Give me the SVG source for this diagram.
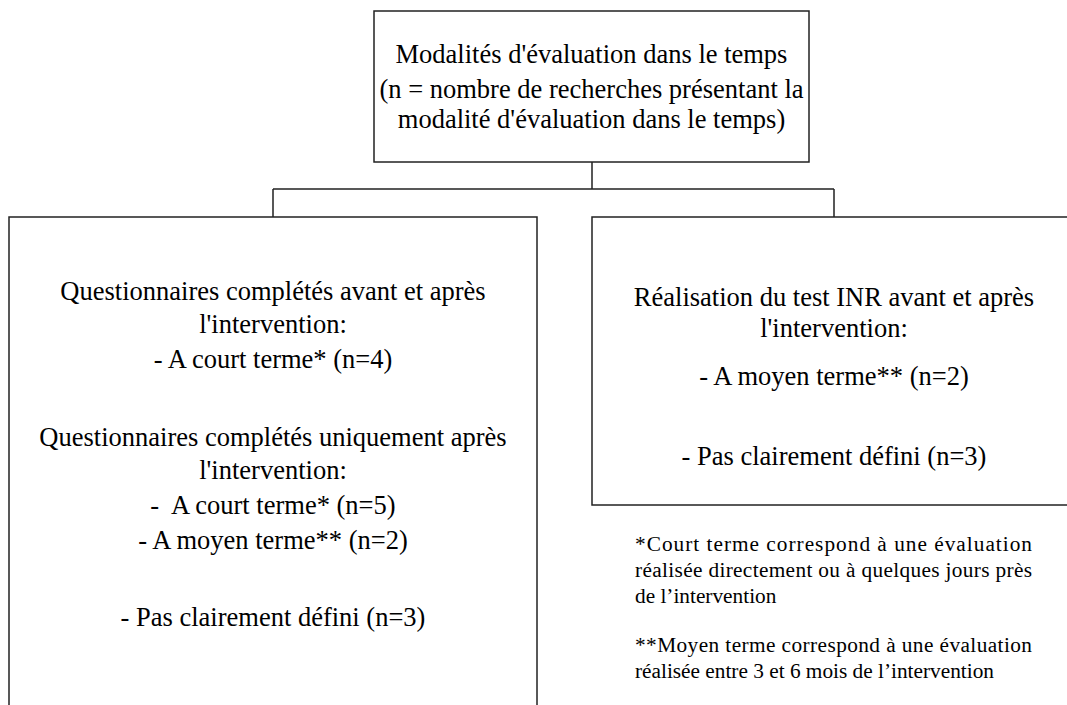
<svg xmlns="http://www.w3.org/2000/svg" width="1067" height="705" viewBox="0 0 1067 705">
<style>
.box{fill:#fff;stroke:#222;stroke-width:1.5}
.con{fill:none;stroke:#222;stroke-width:1.5}
.t{font-family:"Liberation Serif","Times New Roman",serif;font-size:26.5px;fill:#000;text-anchor:middle}
.f{font-family:"Liberation Serif","Times New Roman",serif;font-size:21.3px;fill:#000}
</style>
<rect width="1067" height="705" fill="#fff"/>
<g id="connectors">
<path class="con" d="M592,162 V189 M273,189 H834 M273,189 V217 M834,189 V217"/>
</g>
<g id="top">
<rect class="box" x="374" y="11" width="435" height="151"/>
<text class="t" x="591.5" y="63">Modalités d'évaluation dans le temps</text>
<text class="t" x="591.5" y="98">(n = nombre de recherches présentant la</text>
<text class="t" x="591.5" y="128">modalité d'évaluation dans le temps)</text>
</g>
<g id="left">
<rect class="box" x="9" y="217" width="528" height="520"/>
<text class="t" x="273" y="300">Questionnaires complétés avant et après</text>
<text class="t" x="273" y="333">l'intervention:</text>
<text class="t" x="273" y="368">- A court terme* (n=4)</text>
<text class="t" x="273" y="446">Questionnaires complétés uniquement après</text>
<text class="t" x="273" y="479">l'intervention:</text>
<text class="t" x="273" y="514" xml:space="preserve">-  A court terme* (n=5)</text>
<text class="t" x="273" y="549">- A moyen terme** (n=2)</text>
<text class="t" x="273" y="626">- Pas clairement défini (n=3)</text>
</g>
<g id="right">
<rect class="box" x="592" y="217" width="484" height="288"/>
<text class="t" x="834" y="306">Réalisation du test INR avant et après</text>
<text class="t" x="834" y="337">l'intervention:</text>
<text class="t" x="834" y="385">- A moyen terme** (n=2)</text>
<text class="t" x="834" y="465">- Pas clairement défini (n=3)</text>
</g>
<g id="notes">
<text class="f" x="635" y="551" textLength="397" lengthAdjust="spacing">*Court terme correspond à une évaluation</text>
<text class="f" x="635" y="577" textLength="397" lengthAdjust="spacing">réalisée directement ou à quelques jours près</text>
<text class="f" x="635" y="603">de l’intervention</text>
<text class="f" x="635" y="652" textLength="397" lengthAdjust="spacing">**Moyen terme correspond à une évaluation</text>
<text class="f" x="635" y="678">réalisée entre 3 et 6 mois de l’intervention</text>
</g>
</svg>
